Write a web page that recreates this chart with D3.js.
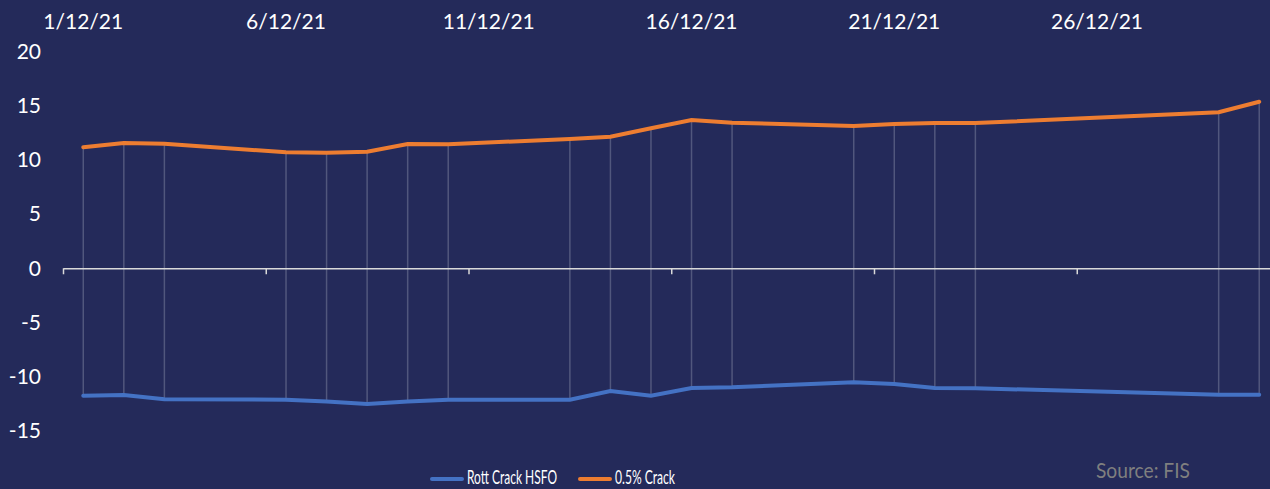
<!DOCTYPE html>
<html>
<meta charset="utf-8">
<style>
body {
  margin: 0;
  background-color: #242a5a;
}
svg {
  display: block;
  font-family: Lato, "Open Sans", sans-serif;
}
.y-axis {
  font-family: Lato, "Open Sans", sans-serif;
}
.y-axis text, .x-labels text {
  fill: #ffffff;
  font-size: 21px;
}
.x-axis path, .x-axis line {
  stroke: #d9d9d9;
  stroke-width: 1.5px;
}
.hilo {
  stroke: #8a8fa8;
  stroke-opacity: 0.45;
  stroke-width: 1.5px;
}
.line-hsfo {
  fill: none;
  stroke: #4472c4;
  stroke-width: 4px;
}
.line-crack {
  fill: none;
  stroke: #ed7d31;
  stroke-width: 4px;
}
.legend text {
  fill: #ffffff;
  font-size: 20px;
}
.source {
  fill: #7f7f7f;
  font-size: 21px;
}
</style>
<body>
<script src="https://d3js.org/d3.v7.min.js"></script>
<script>

// day of December 2021 for each point
var days = [1, 2, 3, 6, 7, 8, 9, 10, 13, 14, 15, 16, 17, 20, 21, 22, 23, 29, 30];

var hsfo = [-11.74, -11.68, -12.07, -12.11, -12.29, -12.51, -12.28, -12.11, -12.11, -11.31,
            -11.74, -11.03, -10.97, -10.51, -10.66, -11.03, -11.06, -11.65, -11.65];

var crack = [11.15, 11.55, 11.48, 10.69, 10.65, 10.75, 11.46, 11.43, 11.92, 12.13,
             12.90, 13.67, 13.42, 13.11, 13.30, 13.39, 13.39, 14.38, 15.35];

var tickDays = [1, 6, 11, 16, 21, 26];
var tickLabels = ["1/12/21", "6/12/21", "11/12/21", "16/12/21", "21/12/21", "26/12/21"];
var yTicks = [-15, -10, -5, 0, 5, 10, 15, 20];

var seriesNames = ["Rott Crack HSFO", "0.5% Crack"];

var width = 1270, height = 489;

function dec(d, h) { return new Date(2021, 11, d, h || 0); }

var data = days.map(function(d, i) {
  return {date: dec(d, 12), hsfo: hsfo[i], crack: crack[i]};
});

// date axis, one slot per day, points in the middle of the slot
var x = d3.scaleTime()
    .domain([dec(1), dec(31)])
    .range([63, 63 + 30 * 40.55]);

var y = d3.scaleLinear()
    .domain([-15, 20])
    .range([431, 51.3]);

var svg = d3.select("body")
  .append("svg")
    .attr("width", width)
    .attr("height", height);

// y axis labels only, plain hyphen for negatives
var yAxis = d3.axisLeft(y)
    .tickValues(yTicks)
    .tickSize(0)
    .tickPadding(0)
    .tickFormat(function(d) { return String(d); });

svg.append("g")
    .attr("class", "y-axis")
    .attr("transform", "translate(41,0)")
    .call(yAxis)
    .call(function(g) {
      g.attr("font-family", null).attr("font-size", null);
      g.select(".domain").remove();
    });

// high-low lines
svg.append("g")
  .selectAll("line")
  .data(data)
  .join("line")
    .attr("class", "hilo")
    .attr("x1", function(d) { return x(d.date); })
    .attr("x2", function(d) { return x(d.date); })
    .attr("y1", function(d) { return y(d.crack); })
    .attr("y2", function(d) { return y(d.hsfo); });

// x axis crossing at 0
var xAxis = d3.axisBottom(x)
    .tickValues(tickDays.map(function(d) { return dec(d); }))
    .tickSizeInner(6)
    .tickSizeOuter(0)
    .tickFormat("");

svg.append("g")
    .attr("class", "x-axis")
    .attr("transform", "translate(0," + y(0) + ")")
    .call(xAxis);

// date labels sit at the top, centred on the day slot
svg.append("g")
    .attr("class", "x-labels")
  .selectAll("text")
  .data(tickDays)
  .join("text")
    .attr("x", function(d) { return x(dec(d, 12)); })
    .attr("y", 29)
    .attr("text-anchor", "middle")
    .text(function(d, i) { return tickLabels[i]; });

var lineH = d3.line()
    .x(function(d) { return x(d.date); })
    .y(function(d) { return y(d.hsfo); });

var lineC = d3.line()
    .x(function(d) { return x(d.date); })
    .y(function(d) { return y(d.crack); });

svg.append("path")
    .datum(data)
    .attr("class", "line-hsfo")
    .attr("stroke-linecap", "round")
    .attr("d", lineH);

svg.append("path")
    .datum(data)
    .attr("class", "line-crack")
    .attr("stroke-linecap", "round")
    .attr("d", lineC);

// legend (text squeezed like the narrow original font)
var legend = svg.append("g").attr("class", "legend");
var legX = [432, 580];
var legW = [90, 60];
var legColors = ["#4472c4", "#ed7d31"];

seriesNames.forEach(function(name, i) {
  legend.append("line")
      .attr("x1", legX[i]).attr("x2", legX[i] + 30)
      .attr("y1", 479).attr("y2", 479)
      .attr("stroke", legColors[i])
      .attr("stroke-width", 4)
      .attr("stroke-linecap", "round");
  legend.append("text")
      .attr("x", legX[i] + 35)
      .attr("y", 484)
      .attr("textLength", legW[i])
      .attr("lengthAdjust", "spacingAndGlyphs")
      .text(name);
});

svg.append("text")
    .attr("class", "source")
    .attr("x", 1096)
    .attr("y", 478)
    .attr("textLength", 94)
    .attr("lengthAdjust", "spacingAndGlyphs")
    .text("Source: FIS");

</script>
</body>
</html>
